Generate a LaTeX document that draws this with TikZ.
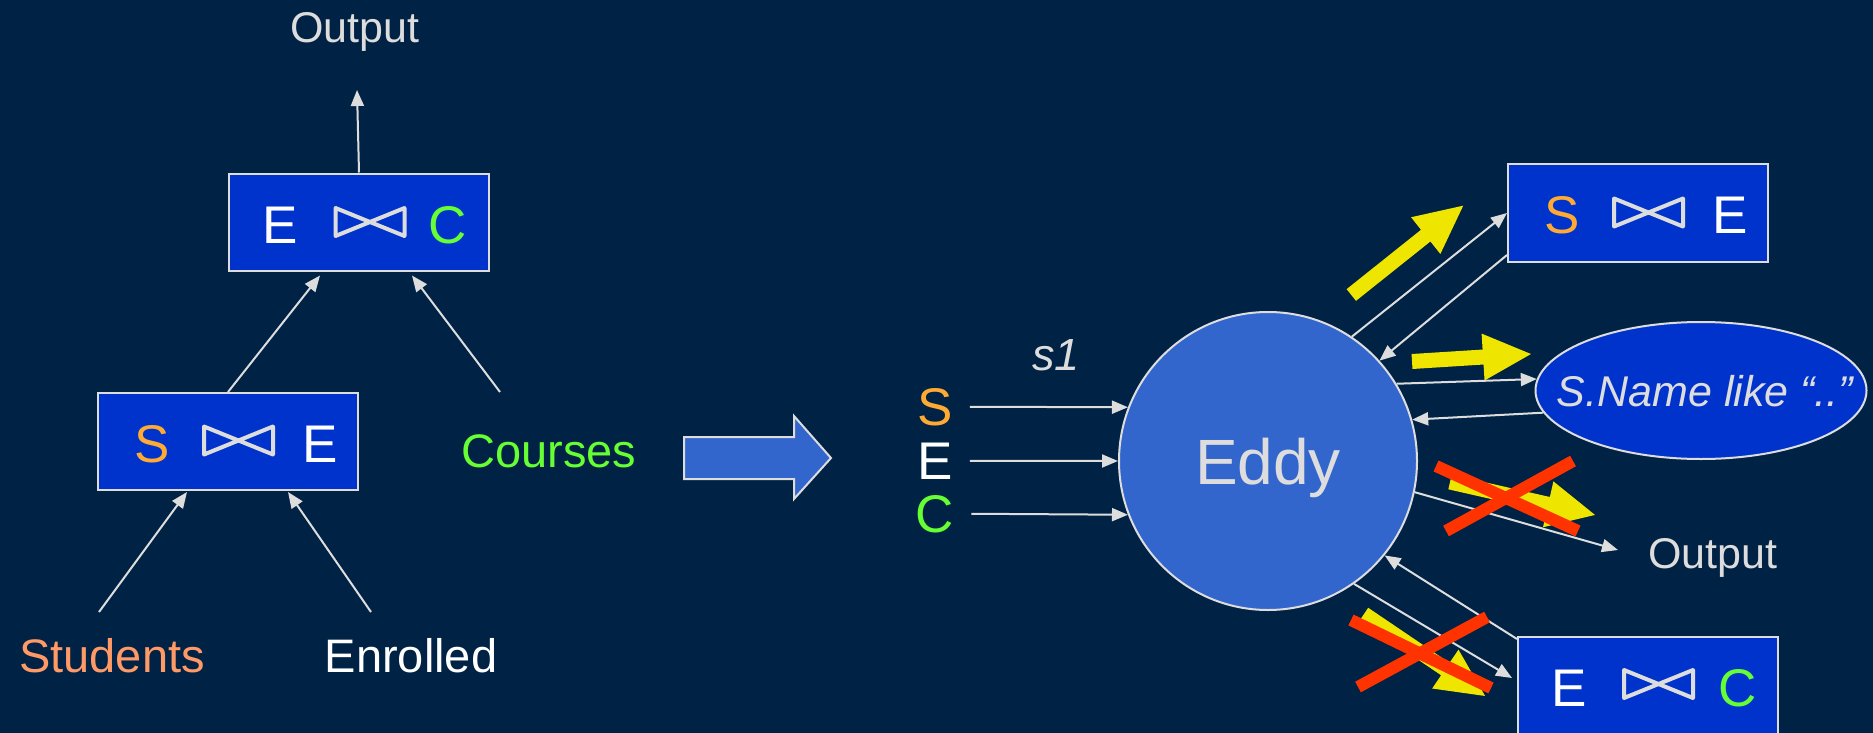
\documentclass[tikz,border=0pt]{standalone}
\usepackage{fontspec}
\setmainfont{Liberation Sans}
\usetikzlibrary{arrows.meta,shapes.geometric,calc}

\definecolor{bgnavy}{HTML}{002244}
\definecolor{boxblue}{HTML}{0033CC}
\definecolor{eddyblue}{HTML}{3366CC}
\definecolor{linegray}{HTML}{DDDDDD}
\definecolor{relorange}{HTML}{FFAA33}
\definecolor{relsalmon}{HTML}{FF9966}
\definecolor{relgreen}{HTML}{66FF33}
\definecolor{hiyellow}{HTML}{EEE600}
\definecolor{crossred}{HTML}{FF3300}

% block arrow: tail centre (#1,#2), angle #3, total length #4
\newcommand\yellowarrow[4]{%
  \fill[hiyellow, shift={(#1,#2)}, rotate=#3]
    (0,-7.5) -- (#4-48,-7.5) -- (#4-48,-23.5) -- (#4,0)
    -- (#4-48,23.5) -- (#4-48,7.5) -- (0,7.5) -- cycle;}

\begin{document}
\begin{tikzpicture}[x=1pt,y=-1pt,
  joinbox/.style={draw=linegray, line width=2pt, fill=boxblue,
    minimum width=260pt, minimum height=97pt, inner sep=0pt},
  boxlbl/.style={anchor=base, inner sep=0pt, font=\fontsize{53}{60}\selectfont},
  inlbl/.style={anchor=base, inner xsep=17pt, inner ysep=0pt, font=\fontsize{53}{60}\selectfont},
  words/.style={anchor=base, inner sep=0pt, font=\fontsize{47}{54}\selectfont},
  outlbl/.style={anchor=base, inner sep=0pt, text=linegray, font=\fontsize{43}{50}\selectfont},
  conn/.style={draw=linegray, line width=2pt, -{Triangle[length=16pt,width=13pt]}},
  redx/.style={draw=crossred, line width=12pt},
  pics/bowtie/.style={code={
    \draw[linegray, line width=4pt, line join=round]
      (-34.5,-14) -- (-34.5,14) -- (34.5,-14) -- (34.5,14) -- cycle;}}
]
\useasboundingbox (0,0) rectangle (1873,733);
\fill[bgnavy] (0,0) rectangle (1873,733);

% ---------- left: static join tree ----------
\node[joinbox] (ectop) at (359,222) {};
\node[boxlbl, text=white] at (280,243) {E};
\pic at (370,222) {bowtie};
\node[boxlbl, text=relgreen] at (448,243) {C};

\node[joinbox] (setop) at (228,441.5) {};
\node[boxlbl, text=relorange] at (152,462) {S};
\pic at (238.5,440.5) {bowtie};
\node[boxlbl, text=white] at (320,462) {E};

\node[outlbl] (outtop) at (355,43) {Output};
\node[words, text=relsalmon] (students) at (112,672) {Students};
\node[words, text=white] (enrolled) at (411,672) {Enrolled};
\node[words, text=relgreen] (courses) at (549,467) {Courses};

\coordinate (stA) at ($(students.base)+(-13,-60)$);
\coordinate (enA) at ($(enrolled.base)+(-40,-60)$);
\coordinate (crA) at ($(courses.base)+(-49,-75)$);

\draw[conn] (ectop.north) -- ($(outtop.base)+(2,47)$);
\draw[conn] (setop.north) -- ($(ectop.south)+(-39,4)$);
\draw[conn] (crA) -- ($(ectop.south)+(53,4)$);
\draw[conn] (stA) -- ($(setop.south)+(-41,1)$);
\draw[conn] (enA) -- ($(setop.south)+(60,1)$);

% ---------- transformation arrow ----------
\draw[fill=eddyblue, draw=linegray, line width=2pt]
  (684,437) -- (794,437) -- (794,416) -- (831,458) -- (794,499)
  -- (794,479) -- (684,479) -- cycle;

% ---------- right: eddy routing ----------
\node[circle, draw=linegray, line width=2pt, fill=eddyblue,
  minimum size=298pt, inner sep=0pt, text=linegray, text depth=0pt,
  font=\fontsize{64}{70}\selectfont] (eddy) at (1268,461) {Eddy};

\node[inlbl, text=relorange] (inS) at (935,425) {S};
\node[inlbl, text=white] (inE) at (935,479) {E};
\node[inlbl, text=relgreen] (inC) at (935,532) {C};
\node[anchor=base, inner sep=0pt, text=linegray,
  font=\itshape\fontsize{45}{50}\selectfont] (s1) at (1056,370) {s1};

\node[joinbox, minimum height=98pt] (se) at (1638,213) {};
\node[boxlbl, text=relorange] at (1562,233) {S};
\pic at (1648.5,212.5) {bowtie};
\node[boxlbl, text=white] at (1730,233) {E};

\node[ellipse, draw=linegray, line width=2pt, fill=boxblue,
  minimum width=331pt, minimum height=137pt, inner sep=0pt] (sel) at (1701,390.5) {};
\node[anchor=base, inner sep=0pt, text=linegray,
  font=\itshape\fontsize{43}{50}\selectfont] at (1705,406.5) {S.Name like “..”};

\node[joinbox] (ec) at (1648,685.5) {};
\node[boxlbl, text=white] at (1569,706) {E};
\pic at (1658.5,684) {bowtie};
\node[boxlbl, text=relgreen] at (1738,706) {C};

\node[outlbl] (out2) at (1713,568) {Output};
\coordinate (outin) at ($(out2.base)+(-95,-18)$);

% highlighted routing choices
\yellowarrow{1351.3}{295}{38.6}{143.2}
\yellowarrow{1412}{361.5}{3.6}{119.2}
\yellowarrow{1450}{482}{-12.8}{148.7}
\yellowarrow{1364}{614}{-34.1}{146.2}

% tuple flow
\draw[conn] (inS.east) -- (eddy.159);
\draw[conn] (inE.east) -- (eddy.180);
\draw[conn] (inC.east) -- (eddy.201);
\draw[conn] (eddy.56) -- (se.west);
\draw[conn] ($(se.south west)+(0,-8)$) -- (eddy.42);
\draw[conn] (eddy.31) -- (sel.176);
\draw[conn] (sel.188) -- (eddy.16);
\draw[conn] (eddy.-12) -- (outin);
\draw[conn] (eddy.-55) -- ($(ec.west)+(-5,-7.5)$);
\draw[conn] ($(ec.north west)+(0,3)$) -- (eddy.-39);

% rejected routes
\draw[redx] (1436,466) -- (1578,531);
\draw[redx] (1446,531) -- (1573,461);
\draw[redx] (1351,620) -- (1491,688);
\draw[redx] (1358,687) -- (1487,617);
\end{tikzpicture}
\end{document}
